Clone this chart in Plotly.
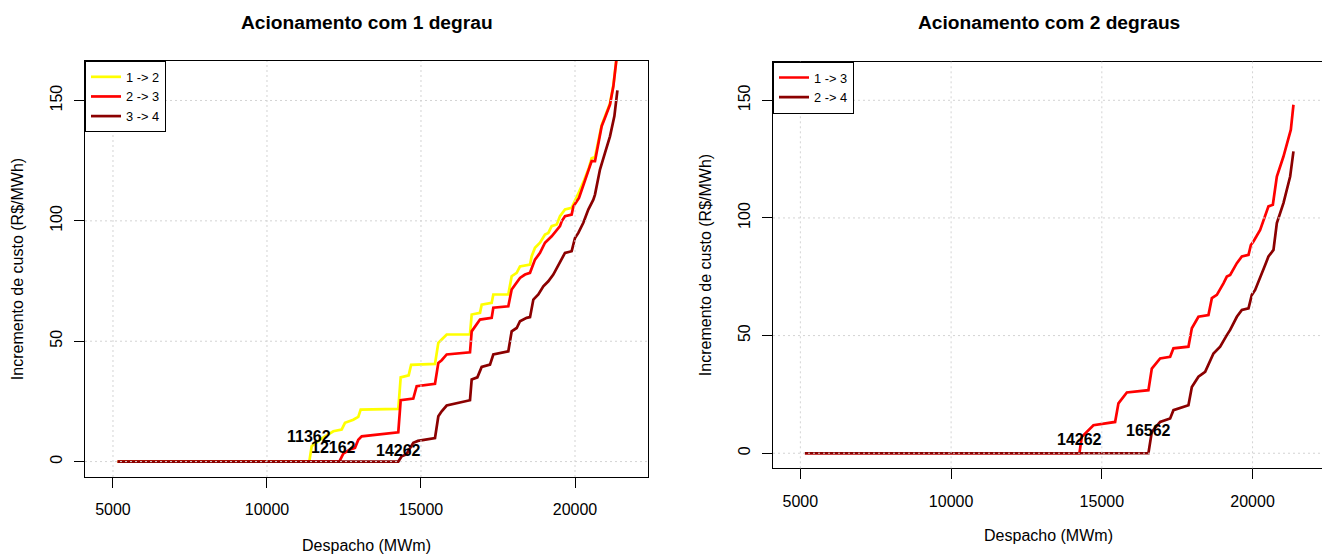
import plotly.graph_objects as go

# ---------------- data ----------------
# Left panel: "Acionamento com 1 degrau"
x_12 = [5150, 11373, 11451, 11721, 12153, 12425, 12532, 12802, 12964, 13042, 14263, 14341,
        14600, 14680, 15455, 15563, 15672, 15834, 16591, 16646, 16916, 16970, 17295, 17348,
        17835, 17944, 18107, 18214, 18539, 18594, 18701, 18864, 19026, 19134, 19243, 19406,
        19513, 19675, 19892, 20000, 20130, 20300, 20450, 20540, 20649, 20866, 20974, 21136,
        21245, 21352, 21390]
y_12 = [0, 0, 6.4, 9.1, 12.6, 13.3, 16.1, 17.4, 18.6, 21.6, 21.9, 35.0,
        35.8, 40.2, 40.6, 49.3, 50.7, 52.8, 52.8, 61.1, 61.8, 65.2, 65.9, 69.4,
        69.4, 77.0, 78.4, 81.1, 81.8, 85.3, 88.8, 90.9, 94.3, 95.0, 97.8, 98.5,
        101.9, 104.7, 105.4, 108.1, 112.0, 117.0, 122.0, 126.0, 126.5, 139.8, 143.3, 148.8,
        156.3, 166.5, 172.0]

x_23 = [5150, 12348, 12477, 12695, 12857, 12965, 13075, 14263, 14341, 14481, 14750, 14860,
        15455, 15563, 15672, 15834, 16591, 16646, 16916, 17295, 17348, 17835, 17944, 18214,
        18377, 18539, 18701, 18864, 19026, 19243, 19406, 19513, 19567, 19675, 19892, 19946,
        20130, 20377, 20540, 20649, 20866, 20974, 21136, 21245, 21352, 21390]
y_23 = [0, 0, 3.3, 5.0, 5.7, 9.1, 10.5, 12.2, 25.5, 25.8, 26.2, 31.3,
        32.3, 41.0, 42.1, 44.5, 45.4, 54.1, 59.0, 59.7, 63.9, 64.5, 71.5, 76.3,
        77.7, 78.4, 83.9, 86.7, 90.9, 93.6, 96.4, 97.8, 99.8, 101.9, 102.6, 106.0,
        109.5, 118.5, 124.8, 124.8, 139.3, 142.8, 148.3, 155.9, 166.3, 172.0]

x_34 = [5150, 14263, 14373, 14520, 14750, 14900, 15455, 15563, 15672, 15834, 16591, 16646,
        16830, 16970, 17240, 17348, 17835, 17944, 18107, 18214, 18431, 18540, 18648, 18810,
        18972, 19134, 19296, 19513, 19675, 19892, 20000, 20108, 20270, 20432, 20595, 20649,
        20811, 20974, 21136, 21279, 21334, 21377]
y_34 = [0, 0, 2.2, 3.0, 7.8, 8.6, 9.8, 18.8, 20.9, 23.3, 25.5, 34.1,
        35.0, 39.3, 40.3, 44.5, 45.8, 54.1, 55.5, 58.3, 59.7, 60.0, 67.3, 69.4,
        72.8, 74.9, 77.7, 82.6, 86.7, 87.4, 92.9, 95.0, 99.2, 104.7, 108.8, 110.9,
        121.3, 128.2, 135.1, 143.5, 149.0, 154.2]

labels_left = ["11362", "12162", "14262"]
labels_left_x = [11362, 12162, 14262]
labels_left_y = [10.4, 5.7, 4.7]

# Right panel: "Acionamento com 2 degraus"
x_13 = [5150, 14257, 14336, 14721, 15441, 15551, 15830, 16546, 16658, 16934, 17266, 17376,
        17873, 17986, 18205, 18537, 18650, 18816, 19035, 19147, 19257, 19479, 19645, 19866,
        19944, 20030, 20252, 20528, 20673, 20806, 21025, 21191, 21270, 21357]
y_13 = [0, 0, 7.0, 11.9, 13.3, 21.2, 25.8, 26.8, 36.0, 40.3, 41.0, 44.6,
        45.3, 53.1, 58.0, 58.7, 65.9, 67.3, 72.2, 75.1, 75.8, 80.8, 83.6, 84.3,
        88.5, 90.0, 94.9, 104.9, 105.6, 117.6, 126.1, 133.2, 137.5, 148.1]

x_24 = [5150, 16546, 16658, 16934, 17266, 17376, 17873, 17986, 18205, 18427, 18703, 18925,
        19147, 19257, 19479, 19645, 19866, 19976, 20086, 20252, 20418, 20528, 20694, 20806,
        21025, 21247, 21300, 21357]
y_24 = [0, 0, 9.1, 13.3, 14.8, 18.3, 20.4, 28.2, 32.5, 34.6, 42.4, 45.3,
        50.2, 52.4, 58.0, 60.9, 61.6, 67.3, 69.4, 75.1, 80.0, 83.6, 86.4, 97.8,
        106.3, 117.6, 123.3, 128.3]

labels_right = ["14262", "16562"]
labels_right_x = [14262, 16550]
labels_right_y = [5.8, 9.5]

x_ticks = [5000, 10000, 15000, 20000]
y_ticks = [0, 50, 100, 150]
titles = ["Acionamento com 1 degrau", "Acionamento com 2 degraus"]
x_title = "Despacho (MWm)"
y_title = "Incremento de custo (R$/MWh)"

# ---------------- styling ----------------
FONT = "Liberation Sans, Arial, Helvetica, sans-serif"
C_YEL, C_RED, C_DRED = "#FFFF00", "#FF0000", "#8B0000"
LW = 2.7
OFF = 8                      # page body margin in the browser
W, H = 1330 - OFF, 556 - OFF  # figure size so it fits the window


def px_x(p):
    return (p - OFF) / W


def px_y(p):
    return (H - (p - OFF)) / H


dom_x1 = [px_x(85), px_x(648)]
dom_y1 = [px_y(477), px_y(61)]
dom_x2 = [px_x(773), px_x(1324)]
dom_y2 = [px_y(468.3), px_y(61.7)]

fig = go.Figure()


def add_line(x, y, name, color, xa, ya, leg):
    fig.add_trace(go.Scatter(x=x, y=y, mode="lines", name=name,
                             line=dict(color=color, width=LW),
                             xaxis=xa, yaxis=ya, legend=leg, hoverinfo="x+y"))


add_line(x_12, y_12, "1 -> 2", C_YEL, "x", "y", "legend")
add_line(x_23, y_23, "2 -> 3", C_RED, "x", "y", "legend")
add_line(x_34, y_34, "3 -> 4", C_DRED, "x", "y", "legend")
add_line(x_13, y_13, "1 -> 3", C_RED, "x2", "y2", "legend2")
add_line(x_24, y_24, "2 -> 4", C_DRED, "x2", "y2", "legend2")


def xaxis(dom, anchor, standoff):
    return dict(domain=dom, anchor=anchor, range=[4092, 22370],
                tickvals=x_ticks, ticktext=[str(v) for v in x_ticks],
                ticks="outside", ticklen=10, tickcolor="black", tickwidth=1,
                ticklabelstandoff=8,
                showline=True, linecolor="black", linewidth=1, mirror=True,
                showgrid=False, zeroline=False,
                tickfont=dict(family=FONT, size=16, color="black"),
                title=dict(text=x_title, font=dict(family=FONT, size=16, color="black"),
                           standoff=standoff))


def yaxis(dom, anchor):
    return dict(domain=dom, anchor=anchor, range=[-6.4, 166.4],
                tickvals=y_ticks, ticktext=[str(v) for v in y_ticks],
                tickangle=-90,
                ticks="outside", ticklen=10, tickcolor="black", tickwidth=1,
                ticklabelstandoff=6,
                showline=True, linecolor="black", linewidth=1, mirror=True,
                showgrid=False, zeroline=False,
                tickfont=dict(family=FONT, size=16, color="black"),
                title=dict(text=y_title, font=dict(family=FONT, size=16, color="black"),
                           standoff=19))


shapes = []
grid_line = dict(color="#D3D3D3", width=1, dash="2px,3px")
for xa, ya in (("x", "y"), ("x2", "y2")):
    for v in x_ticks:
        shapes.append(dict(type="line", xref=xa, yref=f"{ya} domain", x0=v, x1=v, y0=0, y1=1,
                           line=grid_line, layer="above"))
    for v in y_ticks:
        shapes.append(dict(type="line", xref=f"{xa} domain", yref=ya, x0=0, x1=1, y0=v, y1=v,
                           line=grid_line, layer="above"))

annotations = []
for t, xv, yv in zip(labels_left, labels_left_x, labels_left_y):
    annotations.append(dict(text=f"<b>{t}</b>", x=xv, y=yv, xref="x", yref="y", showarrow=False,
                            font=dict(family=FONT, size=16, color="black")))
for t, xv, yv in zip(labels_right, labels_right_x, labels_right_y):
    annotations.append(dict(text=f"<b>{t}</b>", x=xv, y=yv, xref="x2", yref="y2", showarrow=False,
                            font=dict(family=FONT, size=16, color="black")))
for t, dom in zip(titles, (dom_x1, dom_x2)):
    annotations.append(dict(text=f"<b>{t}</b>", x=(dom[0] + dom[1]) / 2, y=px_y(23),
                            xref="paper", yref="paper", showarrow=False,
                            xanchor="center", yanchor="middle",
                            font=dict(family=FONT, size=19.2, color="black")))


def legend(xp, yp):
    return dict(x=xp, y=yp, xanchor="left", yanchor="top", bgcolor="white",
                bordercolor="black", borderwidth=1, itemwidth=30, tracegroupgap=0,
                font=dict(family=FONT, size=12.8, color="black"))


fig.update_layout(
    width=W, height=H, autosize=False,
    margin=dict(l=0, r=0, t=0, b=0),
    paper_bgcolor="white", plot_bgcolor="white",
    font=dict(family=FONT, size=16, color="black"),
    xaxis=xaxis(dom_x1, "y", 22), yaxis=yaxis(dom_y1, "x"),
    xaxis2=xaxis(dom_x2, "y2", 21), yaxis2=yaxis(dom_y2, "x2"),
    legend=legend(dom_x1[0], dom_y1[1]),
    legend2=legend(dom_x2[0], dom_y2[1]),
    shapes=shapes, annotations=annotations,
    showlegend=True,
)

fig.write_html("out.html")
